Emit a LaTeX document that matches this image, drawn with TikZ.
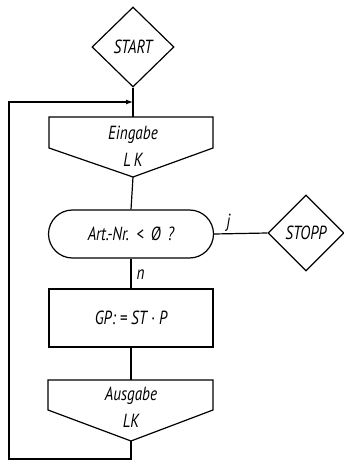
\documentclass[tikz,border=0pt]{standalone}
\usepackage{fontspec}
\newfontfamily\lblfont{PT Sans}[FakeStretch=0.8]
\usetikzlibrary{shapes.geometric,arrows.meta}
\tikzset{
  txt/.style={font=\lblfont\itshape\fontsize{19}{21}\selectfont},
  box/.style={draw, line width=1.2pt, inner sep=0pt, txt},
  lbl/.style={inner sep=0pt, txt},
  dia/.style={box, diamond},
  conn/.style={line width=1.2pt},
}
\begin{document}
\begin{tikzpicture}[x=1pt,y=-1pt]
\useasboundingbox (0,0) rectangle (344,462);
% START
\node[dia, minimum width=82pt, minimum height=80pt] (start) at (133,47) {START};
% Eingabe
\coordinate (eintop) at (133,117);
\coordinate (einbot) at (133,177);
\draw[conn] (49,117) -- (213,117) -- (213,148) -- (einbot) -- (49,148) -- cycle;
\node[lbl] (ein1) at (133,135) {Eingabe};
\node[lbl] (ein2) at (133,160) {L\,K};
% decision
\node[box, rounded corners=24pt, minimum width=165pt, minimum height=48pt] (dec) at (131,234) {Art.-Nr.\ \,<\ \,Ø\ \,?};
% STOPP
\node[dia, minimum width=76pt, minimum height=76pt] (stopp) at (306,233) {STOPP};
% GP
\node[box, minimum width=164pt, minimum height=58pt] (gp) at (131,318) {GP: = ST · P};
% Ausgabe
\coordinate (austop) at (131,380);
\coordinate (ausbot) at (131,441);
\draw[conn] (48,380) -- (213,380) -- (213,410) -- (ausbot) -- (48,410) -- cycle;
\node[lbl] (aus1) at (131,396) {Ausgabe};
\node[lbl] (aus2) at (131,421) {LK};
% connectors
\draw[conn] (start.south) -- (eintop);
\draw[conn] (einbot) -- (dec.north);
\draw[conn] (dec.east) -- node[lbl, pos=0.27, above=2pt] (jl) {j} (stopp.west);
\draw[conn] (dec.south) -- node[lbl, pos=0.55, right=5pt] (nl) {n} (gp.north);
\draw[conn] (gp.south) -- (austop);
\coordinate (c1) at (131,459);
\coordinate (c2) at (9,459);
\coordinate (c3) at (9,102);
\coordinate (loopin) at (133,102);
\draw[conn, -{Latex[length=7pt,width=5pt]}] (ausbot) -- (c1) -- (c2) -- (c3) -- (loopin);
\end{tikzpicture}
\end{document}
